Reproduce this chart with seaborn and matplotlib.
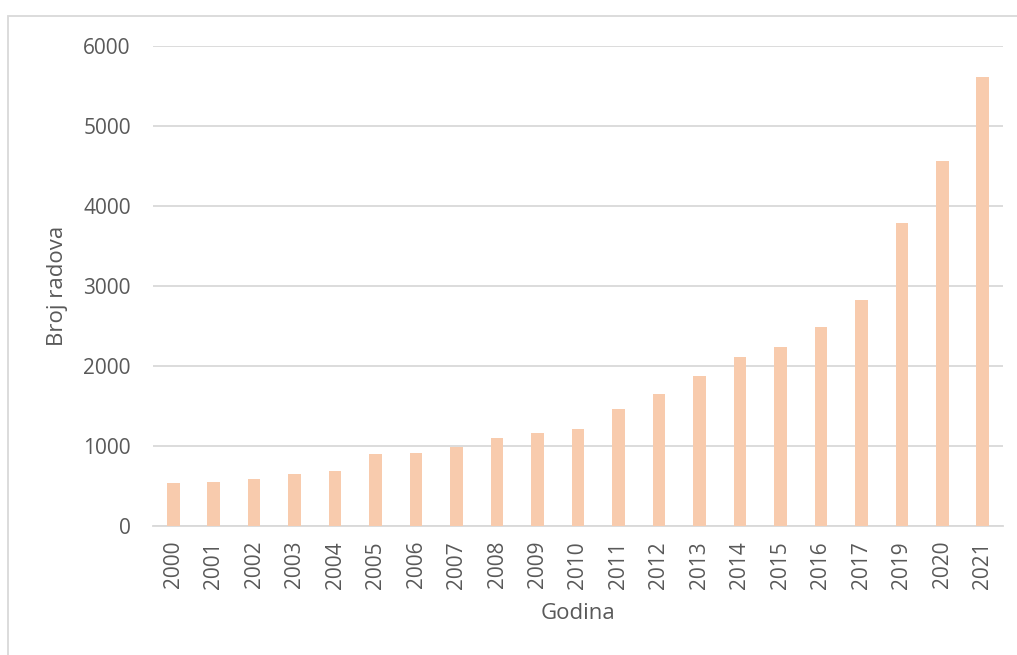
import matplotlib
matplotlib.use("Agg")
import matplotlib.pyplot as plt
import seaborn as sns
import pandas as pd
from matplotlib.patches import Rectangle

years = ["2000", "2001", "2002", "2003", "2004", "2005", "2006", "2007", "2008", "2009",
         "2010", "2011", "2012", "2013", "2014", "2015", "2016", "2017", "2019", "2020", "2021"]
counts = [530, 546, 580, 642, 688, 900, 905, 980, 1096, 1155,
          1209, 1455, 1650, 1871, 2105, 2234, 2484, 2825, 3780, 4559, 5609]
y_ticks = [0, 1000, 2000, 3000, 4000, 5000, 6000]

sns.set_theme(style="white")
plt.rcParams['font.family'] = ['Open Sans', 'DejaVu Sans']

text_color = "#595959"
grid_color = "#D9D9D9"
bar_color = "#F8CBAD"

df = pd.DataFrame({"Godina": years, "Broj radova": counts})

fig = plt.figure(figsize=(10.17, 6.55), dpi=100)
ax = fig.add_axes([153 / 1017, 1 - 525.7 / 655, 850 / 1017, 480 / 655])

sns.barplot(data=df, x="Godina", y="Broj radova", color=bar_color, width=0.31,
            saturation=1, ax=ax, zorder=3, edgecolor="none", linewidth=0)

ax.set_ylim(0, 6000)
ax.set_yticks(y_ticks)
ax.set_yticklabels([str(t) for t in y_ticks], color=text_color, fontsize=15)
ax.yaxis.grid(True, color=grid_color, linewidth=1.3, zorder=0)
ax.set_axisbelow(True)
for s in ["top", "right", "left"]:
    ax.spines[s].set_visible(False)
ax.spines["bottom"].set_color(grid_color)
ax.spines["bottom"].set_linewidth(1.3)
ax.tick_params(axis="y", length=0, pad=16)
ax.tick_params(axis="x", length=0, pad=11, rotation=90, labelsize=15, labelcolor=text_color)
ax.set_xlim(-0.5, len(years) - 0.5)

ax.set_xlabel("Godina", color=text_color, fontsize=16, labelpad=10)
ax.set_ylabel("Broj radova", color=text_color, fontsize=16, labelpad=11)

fig.patches.append(Rectangle((7.5 / 1017, -0.1), 1.2, 1 - 16 / 655 + 0.1,
                             transform=fig.transFigure, fill=False,
                             edgecolor=grid_color, linewidth=1.3))

fig.savefig("out.png", dpi=100, facecolor="white")
